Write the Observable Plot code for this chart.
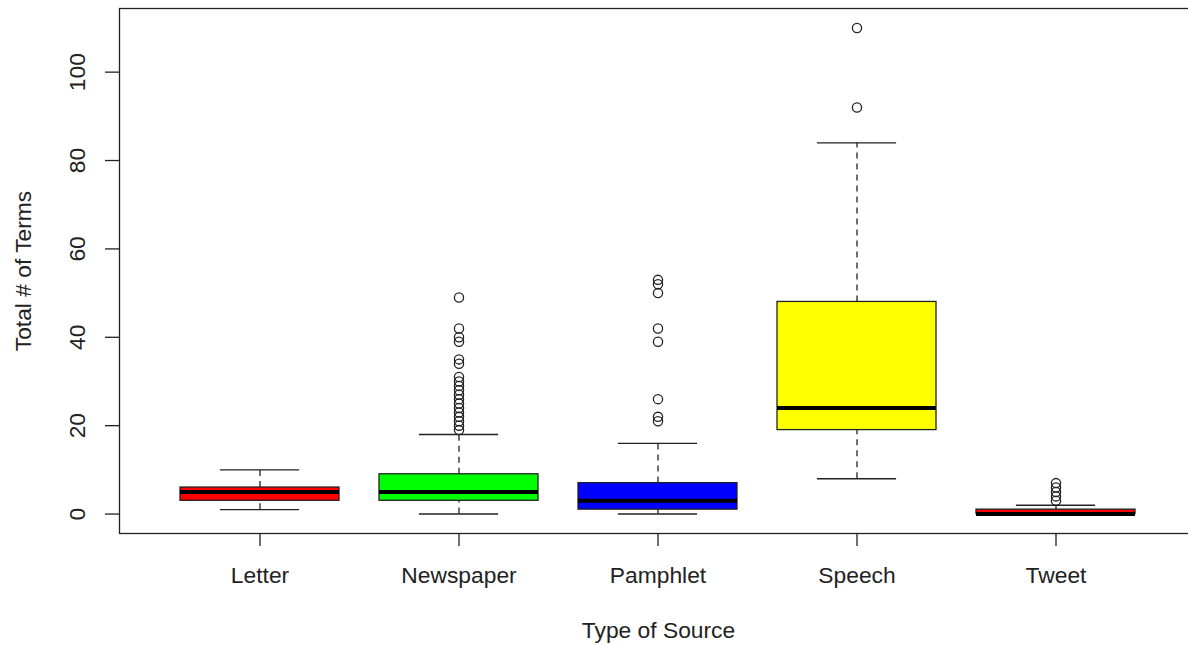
<!DOCTYPE html>
<html>
<head>
<meta charset="utf-8">
<script src="https://cdn.jsdelivr.net/npm/d3@7"></script>
<script src="https://cdn.jsdelivr.net/npm/@observablehq/plot@0.6"></script>
<style>
  html, body { margin: 0; padding: 0; background: white; overflow: hidden; }
</style>
</head>
<body>
<div id="chart"></div>
<script>
// ---- data ----
const categories   = ["Letter", "Newspaper", "Pamphlet", "Speech", "Tweet"];
const whiskerLow   = [1, 0, 0, 8, 0];
const quartile1    = [3, 3, 1, 19, 0];
const medians      = [5, 5, 3, 24, 0];
const quartile3    = [6, 9, 7, 48, 1];
const whiskerHigh  = [10, 18, 16, 84, 2];
const outliersLetter    = [];
const outliersNewspaper = [19, 20, 21, 22, 23, 24, 25, 26, 27, 28, 29, 30, 31, 34, 35, 39, 40, 42, 49];
const outliersPamphlet  = [21, 22, 26, 39, 42, 50, 52, 53];
const outliersSpeech    = [92, 110];
const outliersTweet     = [3, 4, 5, 6, 7];
const yTicks = [0, 20, 40, 60, 80, 100];
const boxFills = ["#ff0000", "#00ff00", "#0000ff", "#ffff00", "#ff0000"];

// ---- tables built from the arrays ----
const stats = categories.map((c, i) => ({
  source: c, lo: whiskerLow[i], q1: quartile1[i], med: medians[i], q3: quartile3[i], hi: whiskerHigh[i]
}));
const outlierLists = [outliersLetter, outliersNewspaper, outliersPamphlet, outliersSpeech, outliersTweet];
const outlierRows = outlierLists.flatMap((vals, i) => vals.map(v => ({source: categories[i], value: v})));

const step = 199.5;
const bw = 0.8 * step;
const dash = "6,5";
const fs = 22.8;

const chart = Plot.plot({
  width: 1188,
  height: 645,
  marginLeft: 119,
  marginRight: -9,
  marginTop: 8,
  marginBottom: 112,
  x: {type: "band", domain: categories, range: [159.25, 1156.75], paddingInner: 0.2, paddingOuter: 0.1, align: 0.5},
  y: {domain: [-4.4, 114.4]},
  color: {domain: categories, range: boxFills},
  style: {fontFamily: "'Liberation Sans', Arial, sans-serif", fontSize: fs + "px", background: "white", color: "black"},
  marks: [
    // whiskers
    Plot.ruleX(stats, {x: "source", y1: "q3", y2: "hi", stroke: "#222", strokeWidth: 1.3, strokeDasharray: dash}),
    Plot.ruleX(stats, {x: "source", y1: "lo", y2: "q1", stroke: "#222", strokeWidth: 1.3, strokeDasharray: dash}),
    // staples
    Plot.tickY(stats, {x: "source", y: "hi", stroke: "#222", strokeWidth: 1.4, insetLeft: bw / 4, insetRight: bw / 4}),
    Plot.tickY(stats, {x: "source", y: "lo", stroke: "#222", strokeWidth: 1.4, insetLeft: bw / 4, insetRight: bw / 4}),
    // boxes
    Plot.barY(stats, {x: "source", y1: "q1", y2: "q3", fill: "source", stroke: "#222", strokeWidth: 1.3}),
    // medians
    Plot.tickY(stats, {x: "source", y: "med", stroke: "black", strokeWidth: 4}),
    // outliers
    Plot.dot(outlierRows, {x: "source", y: "value", r: 4.6, stroke: "#222", strokeWidth: 1.3, fill: "none"}),
    // frame (right side falls outside the window)
    Plot.frame({stroke: "#222", strokeWidth: 1.3}),
    // axes
    Plot.axisY({ticks: yTicks, tickSize: 14, tickFormat: () => "", label: null, stroke: "#222", strokeWidth: 1.3}),
    Plot.text(yTicks, {y: d => d, text: d => String(d), frameAnchor: "left", dx: -42, rotate: -90,
      textAnchor: "middle", lineAnchor: "middle", fill: "#222", fontSize: fs}),
    Plot.axisX({tickSize: 13, tickPadding: 20, label: null, stroke: "#222", strokeWidth: 1.3, fill: "#222", fontSize: fs}),
    // axis titles
    Plot.text(["Type of Source"], {frameAnchor: "bottom", dy: 97, lineAnchor: "middle", textAnchor: "middle", fill: "#222", fontSize: fs}),
    Plot.text(["Total # of Terms"], {frameAnchor: "left", dx: -96, rotate: -90, lineAnchor: "middle", textAnchor: "middle", fill: "#222", fontSize: fs})
  ]
});
document.getElementById("chart").appendChild(chart);
</script>
</body>
</html>
